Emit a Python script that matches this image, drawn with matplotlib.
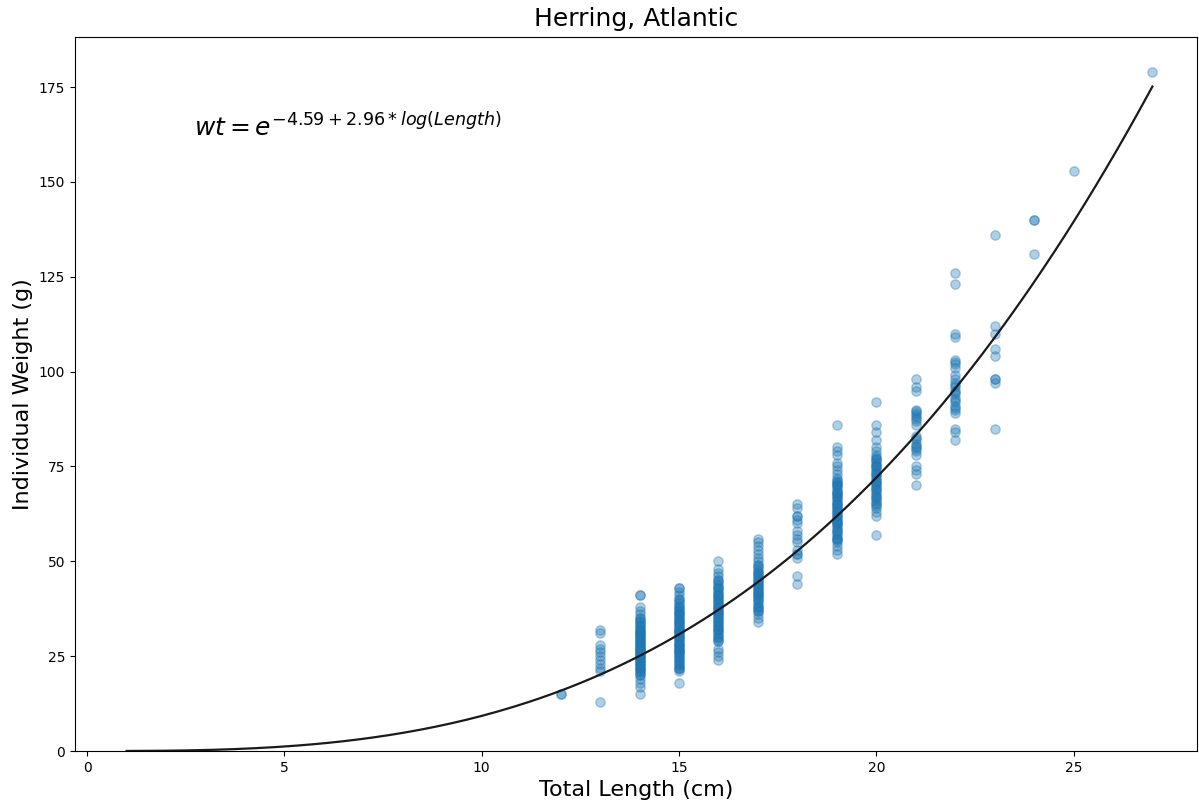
import numpy as np
import matplotlib.pyplot as plt

# %% Data: weights (g) read per total length (cm)
weights = {
    12: [15, 15],
    13: [32, 31, 28, 27, 26, 25, 24, 23, 22, 21, 13],
    14: [41, 41, 38, 37, 36, 35, 35, 34, 34, 33, 33, 32, 32, 31, 31, 30, 30, 29, 29, 28, 28,
         27, 27, 26, 26, 25, 25, 24, 24, 23, 23, 22, 22, 21, 21, 20, 20, 19, 18, 17, 15,
         20.5, 21.5, 22.5, 23.5, 24.5, 25.5, 26.5, 27.5, 28.5, 29.5, 30.5, 31.5, 32.5, 33.5,
         34.5, 23, 24, 25, 26, 27, 28, 29, 30, 31],
    15: [43, 43, 42, 41, 40, 40, 39, 38, 38, 37, 37, 36, 36, 35, 35, 34, 34, 33, 33, 32, 32,
         31, 31, 30, 30, 29, 29, 28, 28, 27, 27, 26, 26, 25, 25, 24, 24, 23, 23, 22, 22, 21, 18,
         21.5, 22.5, 23.5, 24.5, 25.5, 26.5, 27.5, 28.5, 29.5, 30.5, 31.5, 32.5, 33.5, 34.5,
         35.5, 36.5, 37.5, 38.5, 39.5, 26, 28, 30, 32, 34],
    16: [50, 48, 47, 46, 45, 45, 44, 43, 43, 42, 41, 41, 40, 40, 39, 38, 38, 37, 37, 36, 35,
         35, 34, 34, 33, 32, 32, 31, 30, 30, 29, 29, 27, 26, 25, 24,
         29.5, 30.5, 31.5, 32.5, 33.5, 34.5, 35.5, 36.5, 37.5, 38.5, 39.5, 40.5, 41.5, 42.5,
         43.5, 44.5, 33, 36, 39],
    17: [56, 55, 54, 53, 52, 51, 50, 49, 49, 48, 47, 47, 46, 45, 45, 44, 43, 43, 42, 42, 41,
         40, 40, 39, 38, 38, 37, 37, 36, 35, 34,
         37.5, 38.5, 39.5, 40.5, 41.5, 42.5, 43.5, 44.5, 45.5, 46.5, 47.5, 48.5, 41, 44],
    18: [65, 64, 62, 62, 61, 60, 58, 57, 56, 55, 53, 52, 52, 51, 46, 44],
    19: [86, 80, 79, 78, 76, 75, 74, 73, 72, 71, 71, 70, 70, 69, 68, 68, 67, 67, 66, 65, 65,
         64, 63, 63, 62, 62, 61, 60, 60, 59, 58, 58, 57, 56, 56, 55, 54, 53, 52,
         55.5, 56.5, 57.5, 58.5, 59.5, 60.5, 61.5, 62.5, 63.5, 64.5, 65.5, 66.5, 67.5, 68.5,
         69.5, 70.5, 71.5, 60, 64, 68],
    20: [92, 86, 84, 82, 80, 79, 78, 77, 77, 76, 75, 75, 74, 73, 73, 72, 71, 71, 70, 69, 69,
         68, 67, 67, 66, 65, 64, 63, 62, 57,
         64.5, 65.5, 66.5, 67.5, 68.5, 69.5, 70.5, 71.5, 72.5, 73.5, 74.5, 75.5, 76.5, 77.5],
    21: [98, 96, 95, 90, 89, 88, 87, 86, 83, 82, 81, 80, 79, 78, 75, 74, 73, 70,
         87.5, 88.5, 89.5, 80.5, 79.5, 82.5],
    22: [126, 123, 110, 109, 103, 102, 101, 99, 98, 97, 96, 95, 94, 93, 92, 91, 90, 89, 85, 84, 82,
         90.5, 92.5, 94.5, 96.5, 102.5],
    23: [136, 112, 110, 106, 104, 98, 98, 97, 85],
    24: [140, 140, 131],
    25: [153],
    27: [179],
}

# fitted log-log model shown on the chart
intercept = -4.59
slope = 2.96
fit_min, fit_max = 1, 27

lengths = np.concatenate([[k] * len(v) for k, v in weights.items()])
wts = np.concatenate([v for v in weights.values()])

# %% Plot
fig = plt.figure(figsize=(11.99, 8.05), dpi=100)
ax = fig.add_axes([75 / 1199, 54 / 805, 1122 / 1199, 714 / 805])

ax.scatter(lengths, wts, s=45, color='#1f77b4', alpha=0.35)

xs = np.linspace(fit_min, fit_max, 200)
ax.plot(xs, np.exp(intercept + slope * np.log(xs)), color='#1a1a1a', linewidth=1.6)

ax.set_xlim(-0.31, 28.13)
ax.set_ylim(0, 188.2)
ax.text(2.7, 162, r'$wt = e^{%.2f + %.2f*log(Length)}$' % (intercept, slope), fontsize=18)

ax.set_title('Herring, Atlantic', fontsize=18, pad=8)
ax.set_xlabel('Total Length (cm)', fontsize=16, labelpad=4)
ax.set_ylabel('Individual Weight (g)', fontsize=16)

fig.savefig('out.png', dpi=100)
